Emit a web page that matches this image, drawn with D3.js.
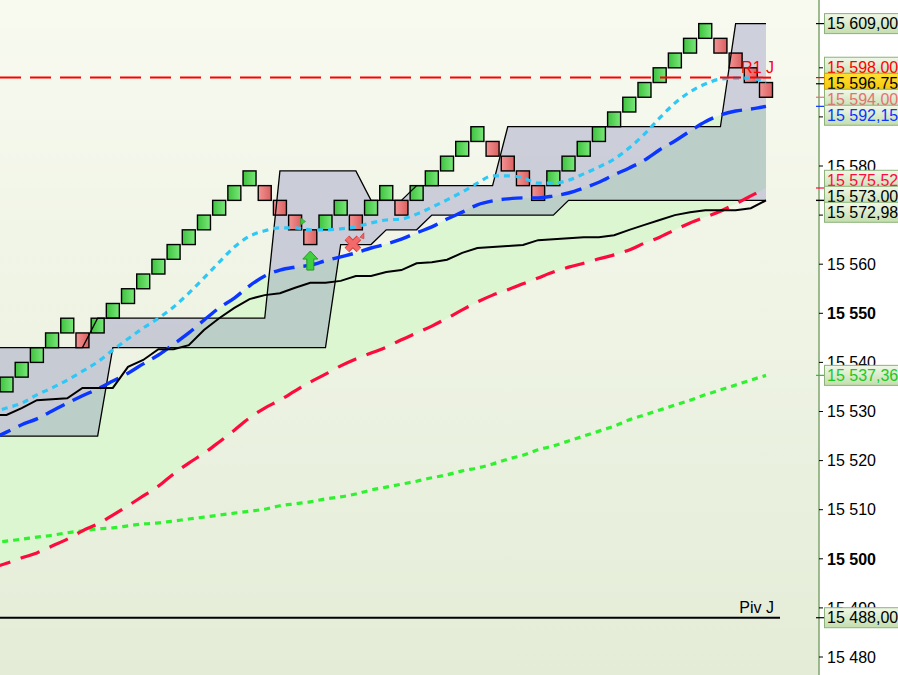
<!DOCTYPE html>
<html><head><meta charset="utf-8">
<script src="https://cdn.jsdelivr.net/npm/d3@7"></script>
<style>html,body{margin:0;padding:0;background:#fff;overflow:hidden}</style>
</head><body><svg id="c" width="898" height="675"></svg>
<script>
// ---------- DATA ----------
// Renko bricks (box size 3): low of each brick and its direction
const brickLow = [15534,15537,15540,15543,15546,15543,15546,15549,15552,15555,
  15558,15561,15564,15567,15570,15573,15576,15573,15570,15567,
  15564,15567,15570,15567,15570,15573,15570,15573,15576,15579,
  15582,15585,15582,15579,15576,15573,15576,15579,15582,15585,
  15588,15591,15594,15597,15600,15603,15606,15603,15600,15597,15594];
const brickDir = ["U","U","U","U","U","D","U","U","U","U",
  "U","U","U","U","U","U","U","D","D","D",
  "D","U","U","D","U","U","D","U","U","U",
  "U","U","D","D","D","D","U","U","U","U",
  "U","U","U","U","U","U","U","D","D","D","D"];
const boxSize = 3;
// Series: first value is the column just left of the view, then columns 0..50
const upperBand = [15543, 15543,15543,15543,15543,15543,15543,
  15549,15549,15549,15549,15549,15549,15549,15549,15549,15549,15549,15549,
  15579,15579,15579,15579,15579,15579, 15573,15573,15573,
  15576,15576,15576,15576,15576,15576,
  15588,15588,15588,15588,15588,15588,15588,15588,15588,15588,15588,15588,15588,15588,15588,
  15609,15609,15609];
const lowerBand = [15525, 15525,15525,15525,15525,15525,15525,15525,
  15543,15543,15543,15543,15543,15543,15543,15543,15543,15543,15543,15543,15543,15543,15543,
  15564,15564,15564, 15567,15567,15567,
  15570,15570,15570,15570,15570,15570,15570,15570,15570,
  15573,15573,15573,15573,15573,15573,15573,15573,15573,15573,15573,15573,15573,15573];
const maBlack = [15529.3, 15529.3,15530.7,15532.3,15532.5,15532.7,15534.8,15534.8,15534.8,15539.1,15540.5,
  15542.7,15542.7,15543.5,15546.6,15549,15551.1,15552.9,15553.7,15554.1,15555.2,
  15556.2,15556.2,15556.6,15557.6,15557.6,15558.4,15558.8,15560.2,15560.4,15560.9,
  15562.3,15563.3,15563.5,15563.7,15563.9,15564.9,15565.1,15565.3,15565.5,15565.5,
  15565.9,15567,15568,15569,15570,15570.6,15571,15571,15571,15571.4,15572.98];
const maCyan = [15529.8, 15530.7,15531.7,15533.4,15534.8,15536.4,15538.2,15540.1,15542.5,15544.8,15547,
  15549,15551.3,15554.1,15557.2,15560.4,15563.5,15565.7,15566.8,15567.4,15567.4,
  15567,15567,15567.2,15567.6,15568.4,15569,15569.2,15570.2,15571.6,15573.1,
  15574.7,15576.5,15578,15578,15577.6,15576.5,15576.5,15577.1,15578.4,15579.8,
  15581.4,15583.7,15586.5,15589.8,15592.8,15595.1,15596.7,15597.7,15597.9,15597.9,15596.9];
const maBlue = [15524.4, 15525.8,15527.3,15528.5,15530.1,15531.7,15533.2,15534.6,15536.2,15537.8,15539.7,
  15541.5,15543.7,15546,15548.6,15551.1,15553.1,15555.6,15557.6,15558.8,15559.4,
  15559.8,15560.7,15561.5,15562.3,15563.3,15564.1,15565.1,15566.4,15567.6,15569.2,
  15570.6,15572.1,15572.9,15573.3,15573.5,15573.5,15573.9,15574.5,15575.5,15576.7,
  15578.2,15579.6,15581.2,15583.3,15585.1,15587.1,15589,15590.4,15591.2,15591.6,15592.15];
const maRed = [15498.1, 15499.1,15500.2,15501.2,15502.6,15504,15505.7,15507.1,15508.9,15510.8,15512.8,
  15514.8,15517.3,15519.5,15521.5,15523.8,15526.2,15528.7,15530.7,15532.3,15534.2,
  15536,15537.6,15539.3,15540.7,15541.9,15543.1,15544.6,15546,15547.4,15549,
  15550.7,15552.3,15553.7,15554.8,15556,15557.2,15558.4,15559.4,15560.2,15561.1,
  15561.9,15562.9,15564.3,15565.5,15567,15568.4,15569.6,15570.8,15572.3,15573.9,15575.52];
const maGreen = [15503.2, 15503.6,15504,15504.4,15504.8,15505.3,15505.7,15506.1,15506.3,15506.7,15507.1,
  15507.3,15507.7,15508.1,15508.5,15508.9,15509.3,15509.7,15510.1,15510.8,15511.2,
  15511.6,15512.2,15512.6,15513.2,15514,15514.6,15515.2,15515.8,15516.5,15517.1,
  15517.9,15518.5,15519.3,15520.3,15521.1,15522.2,15523,15524,15525,15526,
  15527,15528.3,15529.3,15530.3,15531.3,15532.3,15533.4,15534.4,15535.4,15536.4,15537.36];
const levelNames = ["R1 J","Piv J"];
const levelValues = [15598, 15488];
const yTickValues = d3.range(15480, 15601, 10);
const labelValues = [15609, 15598, 15596.75, 15594, 15592.15, 15575.52, 15573, 15572.98, 15537.36, 15488];
const labelColors = ["#000","#ff0000","#000","#e87070","#0a36ff","#ff0a3c","#000","#000","#1ec81e","#000"];
const labelKinds  = ["g","g","y","g","g","g","g","g","g","g"];
const buySignals = [20];
const sellSignals = [23];
const sideMarksUp = [19];
const sideMarksDown = [23];

// ---------- SETUP ----------
const W = 898, H = 675, axisX = 819;
const svg = d3.select("#c");
const defs = svg.append("defs");
const fmtInt = d3.formatLocale({decimal:",", thousands:"\u00a0", grouping:[3], currency:["",""]});
const fTick = fmtInt.format(",.0f"), fLab = fmtInt.format(",.2f");

const x = d3.scaleLinear().domain([0, 50]).range([6.5, 766]);
const y = d3.scaleLinear().domain([15480, 15580]).range([657, 166]);
const colX = i => x(i - 1); // series index -> column (index 0 is column -1)

function lg(id, dir, stops){
  const g = defs.append("linearGradient").attr("id", id)
    .attr("x1",0).attr("y1",0).attr("x2",dir==="h"?1:0).attr("y2",dir==="h"?0:1);
  stops.forEach((c,k)=>g.append("stop").attr("offset", k/(stops.length-1)).attr("stop-color", c));
}
lg("bg","v",["#f8faf0","#e4ecd7"]);
lg("gB","h",["#3ec23e","#7ae87a"]);
lg("rB","h",["#f39494","#db6060"]);
lg("lbG","v",["#f1f8e9","#c3dead"]);
lg("lbY","v",["#ffe033","#f5c200"]);
defs.append("clipPath").attr("id","plot").append("rect").attr("width",axisX).attr("height",H);

svg.append("rect").attr("width",W).attr("height",H).attr("fill","#fff");
svg.append("rect").attr("width",axisX).attr("height",H).attr("fill","url(#bg)");

const plot = svg.append("g").attr("clip-path","url(#plot)");
const idx = d3.range(maBlue.length);

// cloud between blue and red MA
plot.append("path").datum(idx)
  .attr("d", d3.area().x(colX).y0(k=>y(maRed[k])).y1(k=>y(maBlue[k])).curve(d3.curveMonotoneX))
  .attr("fill","#dbf6d1");

// channel fill
plot.append("path").datum(idx)
  .attr("d", d3.area().x(colX).y0(k=>y(lowerBand[k])).y1(k=>y(upperBand[k])))
  .attr("fill","rgb(112,114,179)").attr("fill-opacity",0.3);

// bricks
plot.selectAll("rect.brick").data(brickLow).join("rect").attr("class","brick")
  .attr("x",(d,i)=>x(i)-6.5).attr("width",13)
  .attr("y",d=>y(d+boxSize)).attr("height",d=>y(d)-y(d+boxSize))
  .attr("fill",(d,i)=>brickDir[i]==="U"?"url(#gB)":"url(#rB)")
  .attr("stroke","#000").attr("stroke-width",1.4);

// channel lines
[upperBand, lowerBand].forEach(s=>{
  plot.append("path").datum(idx).attr("d", d3.line().x(colX).y(k=>y(s[k])))
    .attr("fill","none").attr("stroke","#000").attr("stroke-width",1.3);
});

function ma(series, color, w, dash, curve){
  plot.append("path").datum(idx)
    .attr("d", d3.line().x(colX).y(k=>y(series[k])).curve(curve||d3.curveMonotoneX))
    .attr("fill","none").attr("stroke",color).attr("stroke-width",w)
    .attr("stroke-dasharray",dash||null);
}
ma(maGreen,"#2ef22e",3.2,"6,5");
ma(maRed,"#ff0a3c",3.2,"20,11");
ma(maBlue,"#0a36ff",3.4,"21,9");
ma(maCyan,"#2ec8f8",3.2,"6,5");
ma(maBlack,"#000",2,null,d3.curveLinear);

// horizontal levels
levelValues.forEach((v,k)=>{
  const isR = levelNames[k].startsWith("R");
  plot.append("line").attr("x1",0).attr("x2",780).attr("y1",y(v)).attr("y2",y(v))
    .attr("stroke",isR?"#ff0000":"#000").attr("stroke-width",2)
    .attr("stroke-dasharray",isR?"21,9":null);
  plot.append("text").attr("x",774).attr("y",y(v)-4.5).attr("text-anchor","end")
    .attr("font-family","Liberation Sans, Arial, sans-serif").attr("font-size",16)
    .attr("fill",isR?"#ff0000":"#000").text(levelNames[k]);
});

// signals
buySignals.forEach(i=>{
  const cx = x(i), t = y(brickLow[i]) + 6.5;
  plot.append("path").attr("d",
    `M${cx},${t} L${cx+7.5},${t+8} L${cx+3.5},${t+8} L${cx+3.5},${t+19} L${cx-3.5},${t+19} L${cx-3.5},${t+8} L${cx-7.5},${t+8} Z`)
    .attr("fill","#3fcf3f").attr("stroke","#249a24").attr("stroke-width",1);
});
sellSignals.forEach(i=>{
  const cx = x(i) - 3, cy = y(brickLow[i]) + 14;
  const d = `M${cx-6},${cy-6}L${cx+6},${cy+6}M${cx+6},${cy-6}L${cx-6},${cy+6}`;
  plot.append("path").attr("d",d).attr("stroke","#d94040").attr("stroke-width",6.5);
  plot.append("path").attr("d",d).attr("stroke","#f26a6a").attr("stroke-width",4.5);
});
sideMarksUp.forEach(i=>{
  const xr = x(i)+6.5, cy = y(brickLow[i]+boxSize/2)-1;
  plot.append("path").attr("d",`M${xr-1},${cy-3.5}L${xr+4},${cy}L${xr-1},${cy+3.5}Z`)
    .attr("fill","#33cc33").attr("stroke","#229922").attr("stroke-width",0.6);
});
sideMarksDown.forEach(i=>{
  const xr = x(i)+8, cy = y(brickLow[i])+6;
  plot.append("path").attr("d",`M${xr},${cy-3}L${xr},${cy+3}L${xr-4},${cy+1.5}Z`)
    .attr("fill","#f06060").attr("stroke","#cc3333").attr("stroke-width",0.6);
});

// ---------- AXIS ----------
const axis = svg.append("g");
axis.append("line").attr("x1",axisX).attr("x2",axisX).attr("y1",0).attr("y2",H)
  .attr("stroke","#7fa46f").attr("stroke-width",1.5);
yTickValues.forEach(v=>{
  axis.append("line").attr("x1",axisX).attr("x2",axisX+4).attr("y1",y(v)).attr("y2",y(v)).attr("stroke","#000");
  axis.append("text").attr("x",827).attr("y",y(v)).attr("dy","0.36em")
    .attr("font-family","Liberation Sans, Arial, sans-serif").attr("font-size",16)
    .attr("font-weight", v%50===0?"bold":"normal").attr("fill","#000").text(fTick(v));
});

// price labels with collision layout
const items = labelValues.map((v,k)=>({v,k,want:y(v)})).sort((a,b)=>a.want-b.want);
const gap = 16;
let clusters = items.map(it=>({items:[it], center:it.want}));
let changed = true;
while(changed){
  changed = false;
  for(let j=0;j<clusters.length-1;j++){
    const a = clusters[j], b = clusters[j+1];
    const aB = a.center + (a.items.length-1)*gap/2, bT = b.center - (b.items.length-1)*gap/2;
    if(bT - aB < gap){
      const m = a.items.concat(b.items);
      clusters.splice(j,2,{items:m, center:d3.mean(m,d=>d.want)});
      changed = true; break;
    }
  }
}
clusters.forEach(c=>c.items.forEach((it,m)=>{ it.pos = c.center + (m-(c.items.length-1)/2)*gap; }));
items.forEach(it=>{
  axis.append("line").attr("x1",axisX-3).attr("x2",axisX+5).attr("y1",it.want).attr("y2",it.want)
    .attr("stroke",labelColors[it.k]).attr("stroke-width",1.2);
});
items.forEach(it=>{
  const g = axis.append("g");
  g.append("rect").attr("x",824.5).attr("y",it.pos-10).attr("width",90).attr("height",20)
    .attr("fill", labelKinds[it.k]==="y"?"url(#lbY)":"url(#lbG)")
    .attr("stroke", labelKinds[it.k]==="y"?"#c9a000":"#8db27c").attr("stroke-width",1);
  g.append("text").attr("x",827).attr("y",it.pos).attr("dy","0.36em")
    .attr("font-family","Liberation Sans, Arial, sans-serif").attr("font-size",16)
    .attr("fill",labelColors[it.k]).text(fLab(it.v));
});
</script></body></html>
